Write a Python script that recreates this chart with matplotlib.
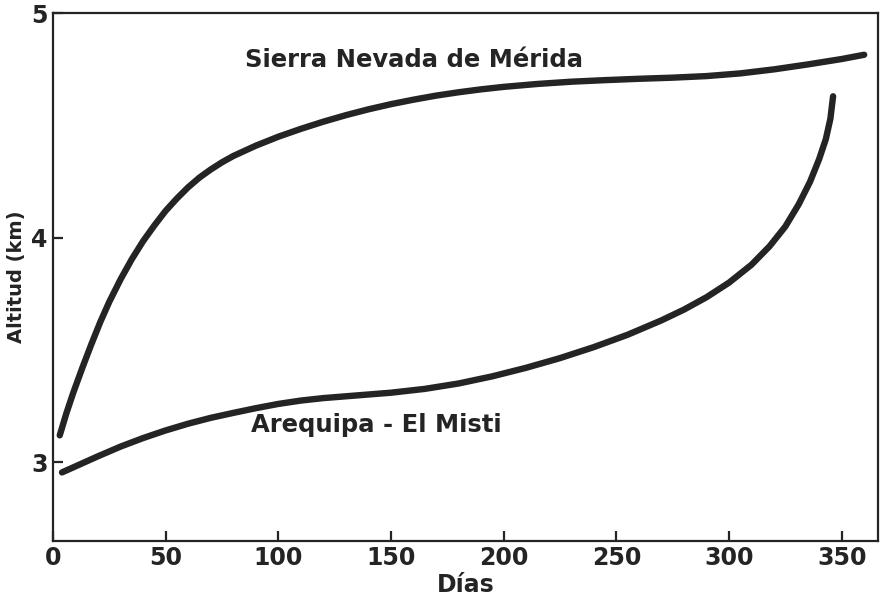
import matplotlib.pyplot as plt

# values (day of year, altitude in km)
merida_dias = [3, 6, 9, 13, 17, 21, 25, 30, 35, 40, 45, 50, 55, 60, 65, 70, 75, 80, 90, 100,
               110, 120, 130, 140, 150, 160, 170, 180, 190, 200, 215, 230, 245, 260, 275, 290,
               305, 320, 335, 350, 360]
merida_alt = [3.12, 3.22, 3.31, 3.42, 3.525, 3.625, 3.715, 3.815, 3.905, 3.985, 4.055, 4.12,
              4.175, 4.225, 4.268, 4.304, 4.336, 4.364, 4.41, 4.45, 4.485, 4.517, 4.546, 4.572,
              4.595, 4.615, 4.633, 4.648, 4.661, 4.672, 4.685, 4.695, 4.702, 4.708, 4.713,
              4.72, 4.732, 4.75, 4.772, 4.796, 4.815]

arequipa_dias = [4, 10, 20, 30, 40, 50, 60, 70, 80, 90, 100, 110, 120, 135, 150, 165, 180, 195,
                 210, 225, 240, 255, 270, 280, 290, 300, 310, 318, 325, 331, 336, 340, 343, 345, 346.2]
arequipa_alt = [2.955, 2.982, 3.027, 3.07, 3.108, 3.142, 3.172, 3.198, 3.22, 3.241, 3.26, 3.275,
                3.286, 3.298, 3.31, 3.327, 3.351, 3.383, 3.421, 3.464, 3.513, 3.568, 3.632, 3.68,
                3.735, 3.80, 3.88, 3.962, 4.05, 4.15, 4.25, 4.35, 4.44, 4.53, 4.63]

ink = '#242424'

fig = plt.figure(figsize=(8.83, 6.01), dpi=100)
ax = fig.add_axes([0.060, 0.100, 0.934, 0.878])

ax.plot(merida_dias, merida_alt, color=ink, lw=4.6, solid_capstyle='round', solid_joinstyle='round')
ax.plot(arequipa_dias, arequipa_alt, color=ink, lw=4.6, solid_capstyle='round', solid_joinstyle='round')

ax.text(85, 4.79, 'Sierra Nevada de Mérida', fontsize=17.5, fontweight='bold',
        color=ink, va='center', ha='left')
ax.text(88, 3.165, 'Arequipa - El Misti', fontsize=17.5, fontweight='bold',
        color=ink, va='center', ha='left')

ax.set_xlim(0, 366)
ax.set_ylim(2.65, 5.0)
ax.set_xticks([0, 50, 100, 150, 200, 250, 300, 350])
ax.set_yticks([3, 4, 5])

for s in ax.spines.values():
    s.set_linewidth(1.6)
    s.set_color(ink)
ax.tick_params(direction='in', length=7, width=1.6, colors=ink, labelsize=17, pad=4)
for lab in ax.get_xticklabels() + ax.get_yticklabels():
    lab.set_fontweight('bold')

ax.set_xlabel('Días', fontsize=17, fontweight='bold', color=ink, labelpad=2)
ax.set_ylabel('Altitud (km)', fontsize=14, fontweight='bold', color=ink)
ax.yaxis.set_label_coords(-0.033, 0.5)

fig.savefig('out.png', dpi=100)
